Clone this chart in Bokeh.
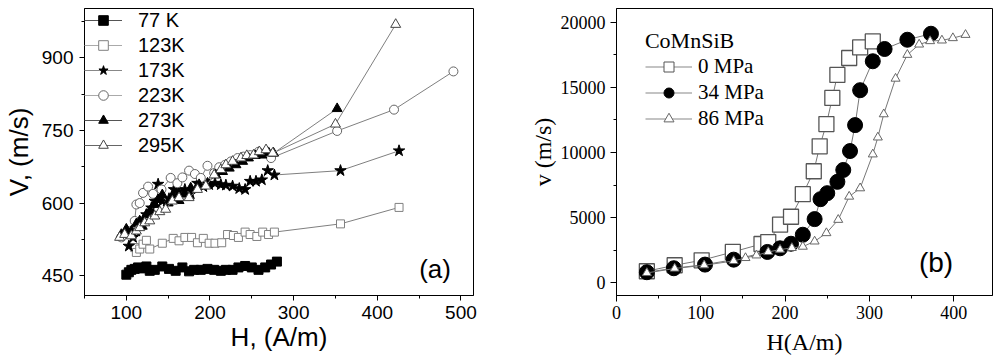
from bokeh.plotting import figure
from bokeh.layouts import row
from bokeh.models import SingleIntervalTicker, Range1d, Legend, LegendItem, Label
from bokeh.embed import file_html
from bokeh.resources import INLINE

# ---------------- Panel (a) data: V vs H at several temperatures ----------------
H77 = [100, 103, 106, 110, 114, 119, 124, 128, 134, 143, 151, 159, 167, 175, 181, 189, 197, 205, 213, 219, 227, 234, 242, 250, 258, 266, 273, 280]
V77 = [452, 457, 462, 464, 467, 465, 469, 460, 462, 469, 464, 460, 467, 459, 462, 462, 464, 462, 460, 462, 462, 467, 470, 467, 462, 467, 473, 479]

H123 = [110, 112, 116, 120, 124, 128, 143, 156, 163, 170, 178, 185, 192, 199, 206, 214, 221, 228, 234, 242, 248, 256, 263, 270, 277, 356, 426]
V123 = [508, 498, 505, 515, 523, 505, 517, 527, 522, 529, 529, 518, 527, 517, 517, 518, 535, 533, 529, 540, 535, 531, 540, 535, 540, 557, 591]

H173 = [103, 108, 112, 116, 120, 124, 130, 134, 138, 143, 151, 157, 163, 170, 177, 185, 192, 199, 206, 213, 219, 227, 235, 242, 248, 255, 262, 269, 277, 356, 426]
V173 = [511, 529, 542, 556, 563, 576, 590, 604, 639, 604, 609, 628, 624, 628, 619, 641, 634, 638, 641, 638, 637, 635, 630, 628, 645, 645, 648, 667, 658, 667, 708]

H223 = [94, 102, 110, 112, 116, 120, 126, 132, 142, 153, 161, 167, 175, 182, 189, 197, 205, 211, 218, 225, 233, 240, 248, 258, 273, 352, 420, 491]
V223 = [529, 542, 563, 597, 600, 621, 634, 619, 628, 652, 641, 653, 667, 660, 652, 677, 662, 674, 679, 686, 693, 696, 699, 706, 693, 749, 793, 872]

H273 = [94, 100, 106, 112, 116, 119, 124, 128, 134, 138, 143, 150, 156, 163, 170, 177, 187, 197, 207, 215, 223, 231, 239, 246, 254, 262, 270, 276, 352]
V273 = [535, 546, 542, 557, 563, 552, 576, 583, 597, 607, 617, 600, 617, 605, 617, 631, 638, 641, 658, 665, 672, 679, 686, 693, 698, 699, 704, 703, 795]

H295 = [92, 98, 106, 112, 116, 122, 128, 134, 140, 147, 155, 163, 175, 185, 195, 205, 213, 219, 227, 237, 244, 252, 259, 267, 275, 350, 422]
V295 = [529, 535, 532, 542, 549, 559, 563, 573, 582, 587, 604, 611, 611, 628, 635, 658, 669, 679, 686, 693, 698, 699, 706, 710, 703, 763, 969]

labels_a = ["77 K", "123K", "173K", "223K", "273K", "295K"]

# ---------------- Panel (b) data: CoMnSiB v vs H at several stresses ----------------
H0 = [36, 69, 101, 138, 172, 180, 194, 207, 221, 234, 241, 249, 256, 262, 276, 289, 304]
v0 = [890, 1350, 1730, 2370, 2980, 3130, 4460, 5070, 6800, 8560, 10470, 12180, 14190, 15950, 17250, 18060, 18520]

H34 = [36, 68, 105, 139, 179, 194, 207, 221, 235, 242, 250, 262, 269, 277, 283, 289, 304, 318, 345, 373]
v34 = [815, 1120, 1400, 1780, 2370, 2650, 3000, 3690, 4890, 6420, 6880, 7750, 8660, 10110, 12100, 14780, 17000, 17940, 18650, 19110]

H86 = [36, 69, 104, 139, 153, 166, 180, 194, 208, 221, 235, 249, 263, 276, 289, 304, 310, 317, 331, 345, 359, 372, 386, 399, 414]
v86 = [760, 1100, 1350, 1680, 1910, 2110, 2370, 2550, 2680, 2780, 3180, 3820, 4840, 6620, 7260, 9860, 11160, 12940, 15670, 17500, 18290, 18550, 18600, 18780, 19030]

labels_b = ["0 MPa", "34 MPa", "86 MPa"]
legend_title_b = "CoMnSiB"

SANS = "Liberation Sans"
SERIF = "Liberation Serif"
NAN = float("nan")


def style_axes(p, font, tick_size, label_size, tick_out):
    for ax in (p.xaxis[0], p.yaxis[0]):
        ax.major_tick_in = 0
        ax.major_tick_out = tick_out
        ax.minor_tick_in = 0
        ax.minor_tick_out = 3
        ax.major_label_text_font = font
        ax.major_label_text_font_size = tick_size
        ax.major_label_text_color = "black"
        ax.axis_label_text_font = font
        ax.axis_label_text_font_size = label_size
        ax.axis_label_text_font_style = "normal"
        ax.axis_label_text_color = "black"
        ax.axis_line_color = "black"
        ax.major_tick_line_color = "black"
        ax.minor_tick_line_color = "black"
    p.xgrid.visible = False
    p.ygrid.visible = False
    p.outline_line_color = "black"
    p.outline_line_width = 1
    p.background_fill_color = "white"
    p.border_fill_color = "white"


# ================= Panel (a) =================
pa = figure(width=500, height=362,
            x_range=Range1d(50, 515), y_range=Range1d(409, 1002),
            output_backend="svg", toolbar_location=None,
            min_border_left=81, min_border_right=27,
            min_border_top=6, min_border_bottom=67,
            x_axis_label="H, (A/m)", y_axis_label="V, (m/s)")
style_axes(pa, SANS, "19px", "26px", 5)
pa.xaxis.ticker = SingleIntervalTicker(interval=100, num_minor_ticks=2)
pa.yaxis.ticker = SingleIntervalTicker(interval=150, num_minor_ticks=2)
pa.xaxis.major_label_standoff = 5
pa.yaxis.major_label_standoff = 6
pa.xaxis.axis_label_standoff = 0
pa.yaxis.axis_label_standoff = 5

series_a = [
    (H77, V77, "square", "black", "black", 9, "#555555", 7),
    (H123, V123, "square", "#808080", "white", 8, "#aaaaaa", 7),
    (H173, V173, "star", "black", "black", 12, "#888888", 10),
    (H223, V223, "circle", "#666666", "white", 9, "#aaaaaa", 8),
    (H273, V273, "triangle", "black", "black", 10, "#555555", 8),
    (H295, V295, "triangle", "#444444", "white", 10, "#666666", 8),
]
items_a = []
for (hx, vy, mk, lc, fc, sz, leg_lc, leg_sz), lab in zip(series_a, labels_a):
    pa.line(hx, vy, line_color="#7f7f7f", line_width=1)
    pa.scatter(hx, vy, marker=mk, size=sz, line_color=lc, fill_color=fc, line_width=1)
    dl = pa.line(x=[NAN], y=[NAN], line_color=leg_lc, line_width=1.2)
    ds = pa.scatter(x=[NAN], y=[NAN], marker=mk, size=leg_sz, line_color=lc, fill_color=fc, line_width=1)
    items_a.append(LegendItem(label=lab, renderers=[dl, ds]))

leg_a = Legend(items=items_a, location="top_left", margin=0, padding=6,
               border_line_color=None, background_fill_alpha=0,
               label_text_font=SANS, label_text_font_size="20px", label_text_color="black",
               glyph_width=38, glyph_height=24, label_height=24,
               label_standoff=16, spacing=1)
pa.add_layout(leg_a)
pa.add_layout(Label(x=469, y=464, text="(a)", text_font=SANS, text_font_size="26px",
                    text_color="black", text_align="center", text_baseline="middle"))

# ================= Panel (b) =================
pb = figure(width=500, height=362,
            x_range=Range1d(0, 446), y_range=Range1d(-971, 21047),
            output_backend="svg", toolbar_location=None,
            min_border_left=116, min_border_right=8,
            min_border_top=8, min_border_bottom=66,
            x_axis_label="H(A/m)", y_axis_label="v (m/s)")
style_axes(pb, SERIF, "18px", "24px", 6)
pb.xaxis.ticker = SingleIntervalTicker(interval=100, num_minor_ticks=2)
pb.yaxis.ticker = SingleIntervalTicker(interval=5000, num_minor_ticks=2)
pb.xaxis.major_label_standoff = 4
pb.yaxis.major_label_standoff = 5
pb.xaxis.axis_label_standoff = 7
pb.yaxis.axis_label_standoff = 2

series_b = [
    (H0, v0, "square", "#555555", "white", 15, 1.3, 8),
    (H34, v34, "circle", "black", "black", 15, 1, 12),
    (H86, v86, "triangle", "#666666", "white", 9, 1, 7),
]
items_b = []
for (hx, vy, mk, lc, fc, sz, lw, leg_sz), lab in zip(series_b, labels_b):
    pb.line(hx, vy, line_color="#777777", line_width=1)
    pb.scatter(hx, vy, marker=mk, size=sz, line_color=lc, fill_color=fc, line_width=lw)
    dl = pb.line(x=[NAN], y=[NAN], line_color="#888888", line_width=1.2)
    ds = pb.scatter(x=[NAN], y=[NAN], marker=mk, size=leg_sz, line_color=lc, fill_color=fc, line_width=1)
    items_b.append(LegendItem(label=lab, renderers=[dl, ds]))

leg_b = Legend(items=items_b, location=(29, 164), margin=0, padding=0,
               border_line_color=None, background_fill_alpha=0,
               label_text_font=SERIF, label_text_font_size="21px", label_text_color="black",
               glyph_width=47, glyph_height=25, label_height=25,
               label_standoff=6, spacing=1)
pb.add_layout(leg_b)
pb.add_layout(Label(x=33.7, y=18600, text=legend_title_b, text_font=SERIF, text_font_size="22px",
                    text_color="black", text_align="left", text_baseline="middle"))
pb.add_layout(Label(x=379, y=1550, text="(b)", text_font=SANS, text_font_size="28px",
                    text_color="black", text_align="center", text_baseline="middle"))

layout = row(pa, pb)
open("out.html", "w").write(file_html(layout, INLINE))
